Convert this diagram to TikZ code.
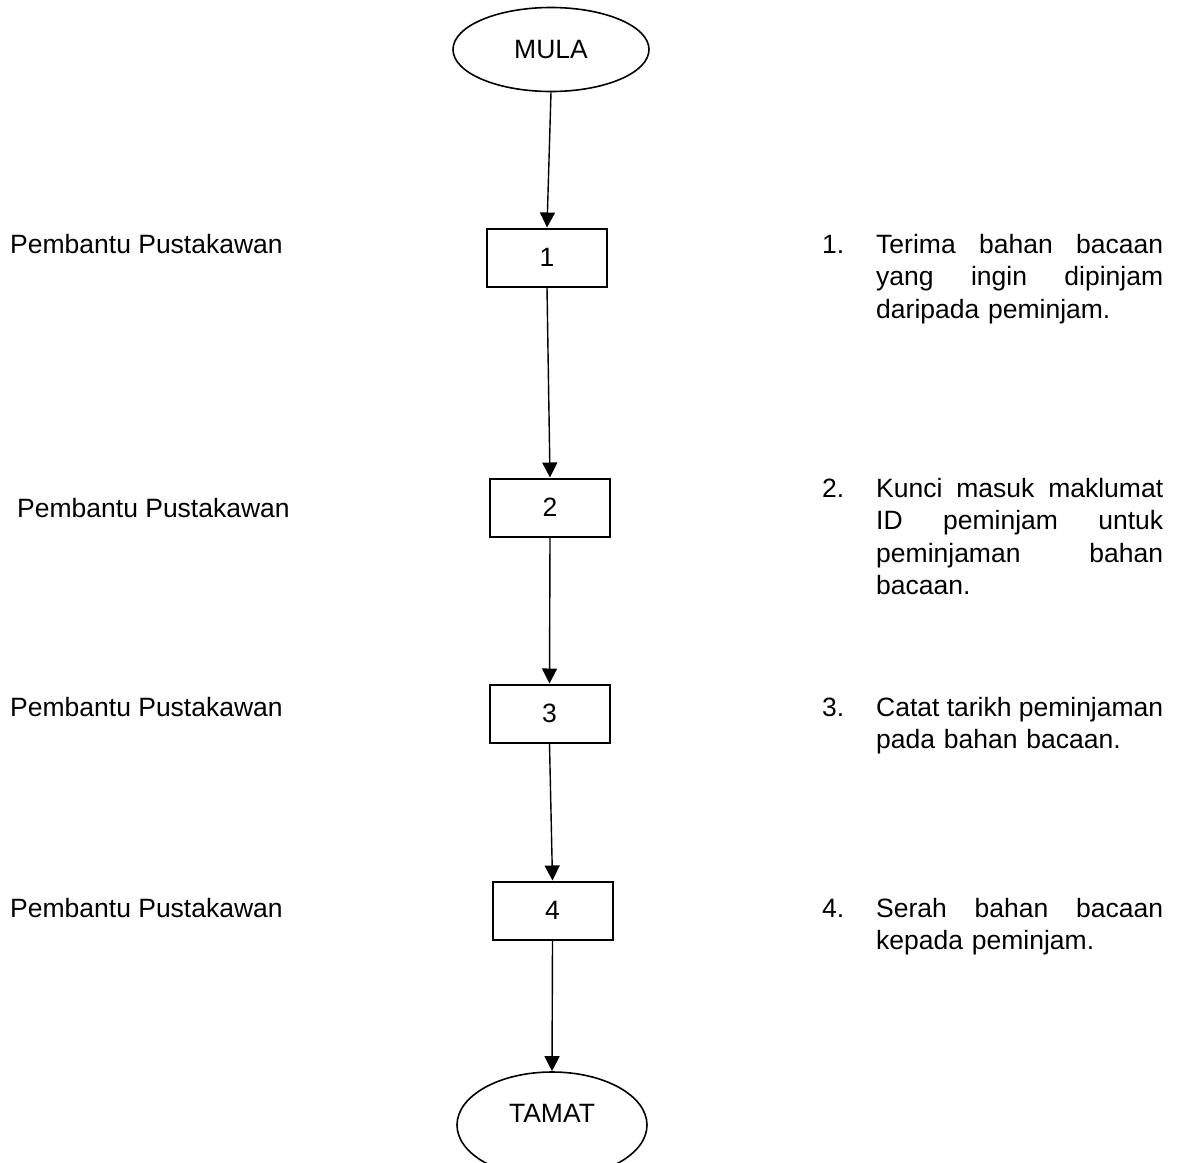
\documentclass[tikz,border=0pt]{standalone}
\usepackage{fontspec}
\setmainfont{Liberation Sans}
\usetikzlibrary{shapes.geometric,arrows.meta}
% one fully justified line of a description
\newcommand{\jline}[1]{\leavevmode\hbox to 287pt{#1}}
\begin{document}
\begin{tikzpicture}[x=1pt,y=-1pt,
  font=\fontsize{26.5}{32.5}\selectfont,
  term/.style={ellipse,draw,line width=1.6pt,minimum width=196pt,minimum height=84pt,inner sep=0pt},
  stepbox/.style={rectangle,draw,line width=2pt,minimum width=120pt,minimum height=58pt,inner sep=0pt},
  flow/.style={line width=1.4pt,-{Triangle[length=15pt,width=15pt]}},
  role/.style={anchor=base west,inner sep=0pt},
  num/.style={anchor=base west,inner sep=0pt},
  desc/.style={anchor=base west,text width=287pt,align=left,inner sep=0pt}]
\clip (0,0) rectangle (1186,1162);
\fill[white] (0,0) rectangle (1186,1162);

% terminals and steps
\node[term] (mula) at (551,49.5) {MULA};
\node[stepbox] (s1) at (547,257.5) {1};
\node[stepbox] (s2) at (550,507.5) {2};
\node[stepbox] (s3) at (549.5,713.5) {3};
\node[stepbox] (s4) at (552.5,910.5) {4};
\node[term,minimum width=190pt,minimum height=106pt] (tamat) at (552,1125) {};
\node (tamattxt) at (552,1113) {TAMAT};

% flow connectors
\draw[flow] (mula.south) -- (s1.north);
\draw[flow] (s1.south) -- (s2.north);
\draw[flow] (s2.south) -- (s3.north);
\draw[flow] (s3.south) -- (s4.north);
\draw[flow] (s4.south) -- (tamat.north);

% responsible officer column
\node[role] (r1) at (10,253) {Pembantu Pustakawan};
\node[role] (r2) at (17,517) {Pembantu Pustakawan};
\node[role] (r3) at (10,716) {Pembantu Pustakawan};
\node[role] (r4) at (10,917) {Pembantu Pustakawan};

% step descriptions
\node[num] (n1) at (822,253) {1.};
\node[desc] (d1) at (876,253) {\jline{Terima\hfill bahan\hfill bacaan}\\\jline{yang\hfill ingin\hfill dipinjam}\\daripada peminjam.};
\node[num] (n2) at (822,497) {2.};
\node[desc] (d2) at (876,497) {\jline{Kunci\hfill masuk\hfill maklumat}\\\jline{ID\hfill peminjam\hfill untuk}\\\jline{peminjaman\hfill bahan}\\bacaan.};
\node[num] (n3) at (822,716) {3.};
\node[desc] (d3) at (876,716) {\jline{Catat\hfill tarikh\hfill peminjaman}\\pada bahan bacaan.};
\node[num] (n4) at (822,917) {4.};
\node[desc] (d4) at (876,917) {\jline{Serah\hfill bahan\hfill bacaan}\\kepada peminjam.};
\end{tikzpicture}
\end{document}
